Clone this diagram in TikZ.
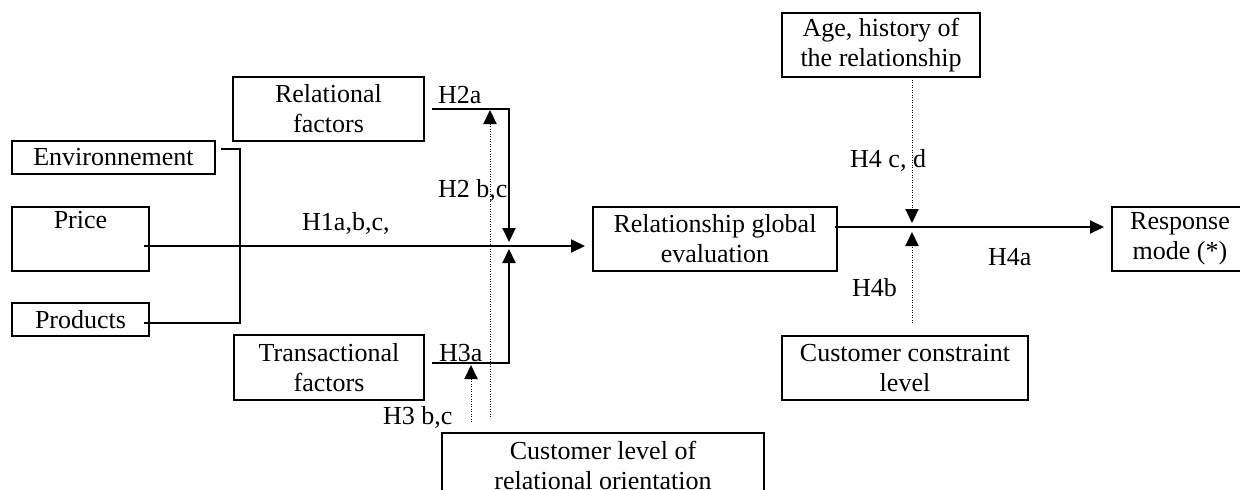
\documentclass[tikz,border=0pt]{standalone}
\usepackage{fontspec}
\setmainfont{Liberation Serif}
\usetikzlibrary{arrows.meta}
\begin{document}
\begin{tikzpicture}[x=1pt,y=-1pt,
  every node/.style={font=\fontsize{26}{30}\selectfont, inner sep=0pt},
  box/.style={draw, line width=2.5pt, align=center},
  lbl/.style={anchor=west},
  solidline/.style={line width=2pt},
  dotline/.style={line width=1pt, dash pattern=on 1pt off 1.5pt},
  tip/.style={-{Triangle[length=14pt,width=13pt]}}
]
\useasboundingbox (0,0) rectangle (1240,490);
\clip (0,0) rectangle (1240,490);
\fill[white] (0,0) rectangle (1240,490);

% boxes
\node[box, minimum width=203pt, minimum height=33pt] (env) at (113.5,157.5) {Environnement};
\node[box, minimum width=137pt, minimum height=64pt] (price) at (80.5,239) {Price\\\strut};
\node[box, minimum width=137pt, minimum height=33pt] (prod) at (80.5,319.5) {Products};
\node[box, minimum width=191pt, minimum height=64pt] (rel) at (328.5,109) {Relational\\factors};
\node[box, minimum width=190pt, minimum height=65pt] (trans) at (329,367.5) {Transactional\\factors};
\node[box, minimum width=322pt, minimum height=64pt] (orient) at (603,465) {Customer level of\\relational orientation};
\node[box, minimum width=244pt, minimum height=64pt] (rge) at (715,239) {Relationship global\\evaluation};
\node[box, minimum width=198pt, minimum height=64pt] (age) at (881,45) {Age, history of\\the relationship};
\node[box, minimum width=246pt, minimum height=64pt] (cons) at (905,368) {Customer constraint\\level};
\node[box, minimum width=136pt, minimum height=64pt] (resp) at (1180,239) {Response\\mode (*)};

% labels
\node[lbl] (h2a) at (438,95) {H2a};
\node[lbl] (h2bc) at (438,190) {H2 b,c};
\node[lbl] (h1) at (302,223) {H1a,b,c,};
\node[lbl] (h3a) at (439,353) {H3a};
\node[lbl] (h3bc) at (383,417) {H3 b,c};
\node[lbl] (h4cd) at (850,160) {H4 c, d};
\node[lbl] (h4b) at (852,288) {H4b};
\node[lbl] (h4a) at (988,257) {H4a};

% junction coordinates
\coordinate (envS) at (221,149);
\coordinate (brk) at (240,149);
\coordinate (prodS) at (144,323);
\coordinate (priceS) at (144,246);
\coordinate (mainE) at (585,246);
\coordinate (relS) at (432,109);
\coordinate (relC) at (509,109);
\coordinate (relT) at (509,242);
\coordinate (trS) at (432,363);
\coordinate (trC) at (509,363);
\coordinate (trT) at (509,249);
\coordinate (d1S) at (490,417);
\coordinate (d1T) at (490,110);
\coordinate (d2S) at (471,422);
\coordinate (d2T) at (471,365);
\coordinate (rgeS) at (835,227);
\coordinate (respT) at (1104,227);
\coordinate (ageS) at (912,77);
\coordinate (ageT) at (912,223);
\coordinate (consS) at (912,323);
\coordinate (consT) at (912,232);

% connectors
\draw[solidline] (envS) -- (brk) |- (prodS);
\draw[solidline, tip] (priceS) -- (mainE);
\draw[solidline, tip] (relS) -- (relC) -- (relT);
\draw[solidline, tip] (trS) -- (trC) -- (trT);
\draw[dotline] (d1S) -- ([yshift=-12pt]d1T);
\draw[solidline, -{Triangle[length=14pt,width=13pt]}] ([yshift=-13pt]d1T) -- (d1T);
\draw[dotline] (d2S) -- ([yshift=-12pt]d2T);
\draw[solidline, -{Triangle[length=14pt,width=13pt]}] ([yshift=-13pt]d2T) -- (d2T);
\draw[solidline, tip] (rgeS) -- (respT);
\draw[dotline] (ageS) -- ([yshift=12pt]ageT);
\draw[solidline, -{Triangle[length=14pt,width=13pt]}] ([yshift=13pt]ageT) -- (ageT);
\draw[dotline] (consS) -- ([yshift=-12pt]consT);
\draw[solidline, -{Triangle[length=14pt,width=13pt]}] ([yshift=-13pt]consT) -- (consT);
\end{tikzpicture}
\end{document}
